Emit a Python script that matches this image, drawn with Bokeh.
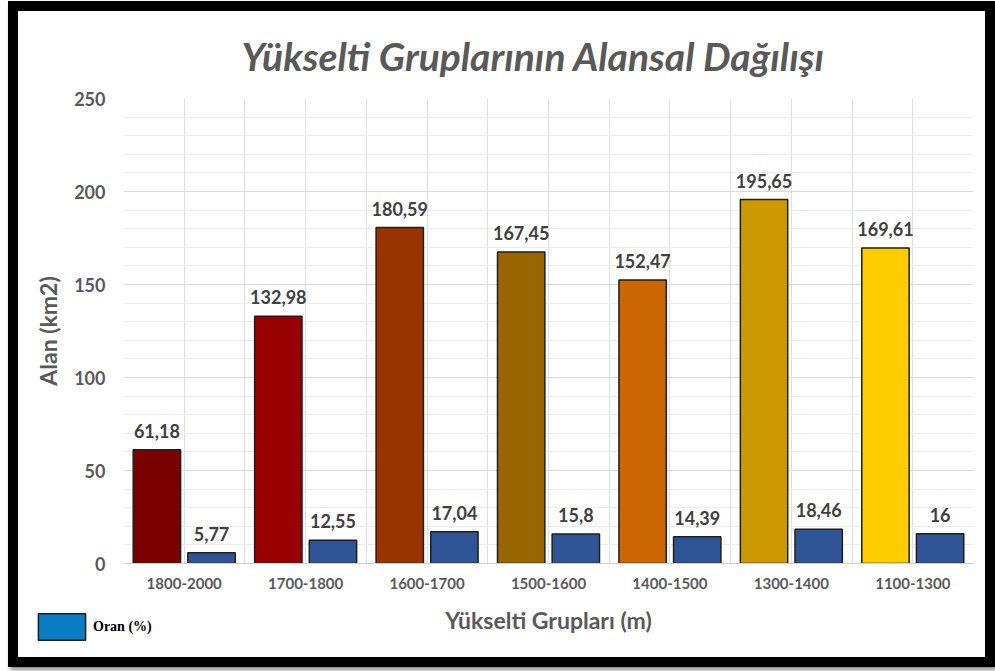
from bokeh.plotting import figure
from bokeh.layouts import column, row
from bokeh.models import (ColumnDataSource, FixedTicker, FactorRange, Range1d,
                          Legend, LegendItem, Plot, VBar, CategoricalScale,
                          LinearScale)
from bokeh.transform import dodge
from bokeh.core.properties import value
from bokeh.embed import file_html
from bokeh.resources import INLINE

# ---- data ----
categories = ["1800-2000", "1700-1800", "1600-1700", "1500-1600",
              "1400-1500", "1300-1400", "1100-1300"]
alan = [61.18, 132.98, 180.59, 167.45, 152.47, 195.65, 169.61]
oran = [5.77, 12.55, 17.04, 15.8, 14.39, 18.46, 16]
alan_colors = ["#7B0000", "#990000", "#993300", "#996600",
               "#CC6600", "#CC9900", "#FFCC00"]
oran_color = "#2F5597"
legend_color = "#0A7EC2"
y_major_ticks = [0, 50, 100, 150, 200, 250]
y_minor_ticks = list(range(0, 251, 10))

title_text = "Yükselti Gruplarının Alansal Dağılışı"
x_label = "Yükselti Grupları (m)"
y_label = "Alan (km2)"
legend_label = "Oran (%)"


def fmt(v):
    return f"{v:g}".replace(".", ",")


src = ColumnDataSource(dict(
    cat=categories, alan=alan, oran=oran, color=alan_colors,
    alan_lbl=[fmt(v) for v in alan], oran_lbl=[fmt(v) for v in oran],
))

GRAY = "#595959"
FONT = "Lato"

W, H = 967, 646
p = figure(width=W, height=H, output_backend="svg", toolbar_location=None,
           x_range=FactorRange(*categories, range_padding=0, factor_padding=0),
           y_range=Range1d(0, 250),
           min_border_left=105, min_border_right=12,
           min_border_top=87, min_border_bottom=94)
p.styles = {"margin-left": "18px", "margin-top": "11px",
            "outline": "10px solid black",
            "box-shadow": "2px 3px 4px 10px rgba(0,0,0,0.45)"}
p.background_fill_color = "white"
p.border_fill_color = "white"
p.outline_line_color = None

# title
p.title.text = title_text
p.title.text_font = FONT
p.title.text_font_style = "bold italic"
p.title.text_font_size = "39px"
p.title.text_color = GRAY
p.title.align = "left"
p.title.offset = 118
p.title.standoff = 39

# bars
p.vbar(x=dodge("cat", -0.225, range=p.x_range), top="alan", width=0.39,
       source=src, fill_color="color", line_color="#1e1e1e", line_width=1.5)
p.vbar(x=dodge("cat", 0.225, range=p.x_range), top="oran", width=0.39,
       source=src, fill_color=oran_color, line_color="#1e1e1e", line_width=1.5)

# value labels
lbl_kw = dict(text_font=value(FONT), text_font_style="bold",
              text_font_size="18px", text_color="#404040",
              text_align="center", text_baseline="bottom", y_offset=-12)
p.text(x=dodge("cat", -0.225, range=p.x_range), y="alan", text="alan_lbl",
       source=src, **lbl_kw)
p.text(x=dodge("cat", 0.225, range=p.x_range), y="oran", text="oran_lbl",
       source=src, **lbl_kw)

# grids
p.xgrid.ticker = FixedTicker(ticks=[i * 0.5 for i in range(15)])
p.xgrid.grid_line_color = "#dedede"
p.ygrid.ticker = FixedTicker(ticks=y_major_ticks, minor_ticks=y_minor_ticks)
p.ygrid.grid_line_color = "#dadada"
p.ygrid.minor_grid_line_color = "#ececec"

# y axis
ya = p.yaxis[0]
ya.ticker = FixedTicker(ticks=y_major_ticks)
ya.axis_line_color = None
ya.major_tick_line_color = None
ya.minor_tick_line_color = None
ya.major_tick_out = 0
ya.major_label_standoff = 18
ya.major_label_text_font = FONT
ya.major_label_text_font_style = "bold"
ya.major_label_text_font_size = "18px"
ya.major_label_text_color = GRAY
ya.axis_label = y_label
ya.axis_label_text_font = FONT
ya.axis_label_text_font_style = "bold"
ya.axis_label_text_font_size = "23px"
ya.axis_label_text_color = GRAY
ya.axis_label_standoff = 9

# x axis
xa = p.xaxis[0]
xa.axis_line_color = "#d0d0d0"
xa.major_tick_line_color = None
xa.major_tick_out = 0
xa.major_label_standoff = 14
xa.major_label_text_font = FONT
xa.major_label_text_font_style = "bold"
xa.major_label_text_font_size = "15px"
xa.major_label_text_color = GRAY
xa.axis_label = x_label
xa.axis_label_text_font = FONT
xa.axis_label_text_font_style = "bold"
xa.axis_label_text_font_size = "23px"
xa.axis_label_text_color = GRAY
xa.axis_label_standoff = 14

# legend: a small plot holding the "Oran (%)" series; the renderer is muted
# with a fully transparent muted glyph, so only the legend swatch shows
leg = Plot(width=130, height=33, output_backend="svg", toolbar_location=None,
           x_range=FactorRange(*categories, range_padding=0),
           y_range=Range1d(-2, -1),
           x_scale=CategoricalScale(), y_scale=LinearScale(),
           min_border=0, min_border_left=0, min_border_right=0,
           min_border_top=0, min_border_bottom=0,
           outline_line_color=None, background_fill_alpha=0,
           border_fill_alpha=0)
r_leg = leg.add_glyph(
    src,
    VBar(x="cat", top="oran", bottom=0, width=0.39, fill_color=legend_color,
         line_color="#1e1e1e", line_width=1.5),
    muted_glyph=VBar(x="cat", top="oran", bottom=0, width=0.39,
                     fill_alpha=0, line_alpha=0),
    muted=True,
)
legend = Legend(items=[LegendItem(label=legend_label, renderers=[r_leg])],
                location=(0, 0), orientation="horizontal",
                padding=0, margin=0, spacing=0, border_line_color=None,
                background_fill_alpha=0, glyph_width=59, glyph_height=33,
                label_text_font="Liberation Serif", label_text_font_style="bold",
                label_text_font_size="14px", label_text_color="black",
                label_standoff=2)
leg.add_layout(legend, "center")

leg_box = row(leg, styles={"margin-top": "-47px", "margin-left": "32px"})
root = column(p, leg_box)

open("out.html", "w").write(file_html(root, INLINE))
